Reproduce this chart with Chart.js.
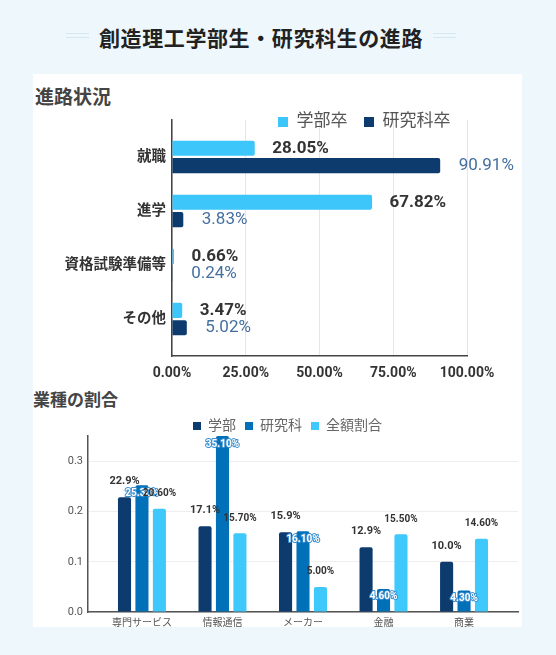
<!DOCTYPE html>
<html lang="ja">
<head>
<meta charset="UTF-8">
<title>創造理工学部生・研究科生の進路</title>
<script src="https://cdn.jsdelivr.net/npm/chart.js"></script>
<style>
  body { margin: 0; width: 556px; height: 655px; background: #eef7fb; overflow: hidden; position: relative;
         font-family: Roboto, 'Noto Sans CJK JP', sans-serif; }
  .deco { position: absolute; top: 33px; width: 23px; height: 3px; border-top: 1px solid #d4e7ed; border-bottom: 1px solid #d4e7ed; }
  .title { position: absolute; left: 0; width: 522px; top: 24px; text-align: center; font-size: 21px; font-weight: bold;
           font-family: 'Noto Sans CJK JP', sans-serif; color: #222; line-height: 26px; letter-spacing: 0.6px; white-space: nowrap; }
  .panel { position: absolute; left: 33px; top: 74px; width: 489px; height: 553px; background: #fff; }
  .sub { position: absolute; font-weight: bold; color: #444; }
  canvas { position: absolute; left: 33px; }
</style>
</head>
<body>
  <div class="deco" style="left:66px"></div>
  <div class="title">創造理工学部生・研究科生の進路</div>
  <div class="deco" style="left:433px"></div>
  <div class="panel"></div>
  <div class="sub" style="left:35px; top:87px; font-size:19px; line-height:22px;">進路状況</div>
  <canvas id="courseChart" width="489" height="289" style="top:97px"></canvas>
  <div class="sub" style="left:33px; top:390px; font-size:17px; line-height:20px;">業種の割合</div>
  <canvas id="industryChart" width="489" height="217" style="top:410px"></canvas>

<script>
const FONT = "Roboto, 'Noto Sans CJK JP', sans-serif";
Chart.defaults.font.family = FONT;

// 進路状況 (%)
const courseLabels = ['就職', '進学', '資格試験準備等', 'その他'];
const undergrad = [28.05, 67.82, 0.66, 3.47];
const graduate = [90.91, 3.83, 0.24, 5.02];
const percentTicks = [0, 25, 50, 75, 100];

// 業種の割合 (ratio)
const industryLabels = ['専門サービス', '情報通信', 'メーカー', '金融', '商業'];
const gakubu = [0.229, 0.171, 0.159, 0.129, 0.100];
const kenkyuka = [0.253, 0.351, 0.161, 0.046, 0.043];
const zengaku = [0.206, 0.157, 0.050, 0.155, 0.146];
const ratioTicks = [0, 0.1, 0.2, 0.3];

// leave some empty room before the first and after the last category
function widenBands(extra) {
  return scale => {
    scale._startValue -= extra;
    scale._valueRange += 2 * extra;
  };
}

// legend text hangs a little into the plot area, don't clip it
const legendOverlap = {
  id: 'legendOverlap',
  afterLayout(chart) {
    chart.legend.bottom += 14;
    chart.legend.height += 14;
  }
};

const courseLabelPlugin = {
  id: 'courseLabels',
  afterDatasetsDraw(chart) {
    const ctx = chart.ctx;
    ctx.save();
    ctx.textAlign = 'left';
    ctx.textBaseline = 'middle';
    chart.getDatasetMeta(0).data.forEach((bar, i) => {
      ctx.font = 'bold 17px ' + FONT;
      ctx.fillStyle = '#333';
      ctx.fillText(undergrad[i].toFixed(2) + '%', bar.x + 17.5, bar.y);
    });
    chart.getDatasetMeta(1).data.forEach((bar, i) => {
      ctx.font = '17px ' + FONT;
      ctx.fillStyle = '#44709f';
      ctx.fillText(graduate[i].toFixed(2) + '%', bar.x + 18.5, bar.y);
    });
    ctx.restore();
  }
};

new Chart(document.getElementById('courseChart'), {
  type: 'bar',
  data: {
    labels: courseLabels,
    datasets: [
      { label: '学部卒', data: undergrad, backgroundColor: '#3cc6f9', borderWidth: 0, borderRadius: 2 },
      { label: '研究科卒', data: graduate, backgroundColor: '#0d3b6e', borderWidth: 0, borderRadius: 2 }
    ]
  },
  options: {
    indexAxis: 'y',
    responsive: false,
    animation: false,
    categoryPercentage: 0.64,
    barPercentage: 0.87,
    layout: { padding: { left: 0, right: 55, top: 0, bottom: 0 } },
    scales: {
      x: {
        min: 0, max: 100,
        afterBuildTicks: s => { s.ticks = percentTicks.map(v => ({ value: v })); },
        afterFit: s => { s.height = 30; },
        ticks: { callback: v => v.toFixed(2) + '%', color: '#333', font: { size: 14, weight: 'bold' }, padding: 9 },
        grid: { color: '#e6e6e6', drawTicks: false },
        border: { color: '#444', width: 1.5 }
      },
      y: {
        afterBuildTicks: widenBands(0.185),
        afterFit: s => { s.width = 139; },
        ticks: { color: '#333', font: { size: 14.5, weight: 'bold' }, padding: 6 },
        grid: { display: false, drawTicks: false },
        border: { color: '#444', width: 1.5 }
      }
    },
    plugins: {
      legend: {
        position: 'top', align: 'end', maxHeight: 23,
        labels: { boxWidth: 10, boxHeight: 10, padding: 16.5, color: '#555', font: { size: 17 } }
      },
      tooltip: { enabled: false }
    }
  },
  plugins: [legendOverlap, courseLabelPlugin]
});

const industryLabelPlugin = {
  id: 'industryLabels',
  afterDatasetsDraw(chart) {
    const ctx = chart.ctx;
    ctx.save();
    ctx.textAlign = 'center';
    ctx.textBaseline = 'middle';
    chart.getDatasetMeta(0).data.forEach((bar, i) => {
      ctx.font = 'bold 11px ' + FONT;
      ctx.fillStyle = '#333';
      ctx.fillText((gakubu[i] * 100).toFixed(1) + '%', bar.x, bar.y - 16);
    });
    chart.getDatasetMeta(1).data.forEach((bar, i) => {
      const t = (kenkyuka[i] * 100).toFixed(2) + '%';
      ctx.font = 'bold 10px ' + FONT;
      ctx.lineWidth = 2;
      ctx.lineJoin = 'round';
      ctx.strokeStyle = '#3a8fd0';
      ctx.strokeText(t, bar.x, bar.y + 8);
      ctx.fillStyle = '#fff';
      ctx.fillText(t, bar.x, bar.y + 8);
    });
    chart.getDatasetMeta(2).data.forEach((bar, i) => {
      ctx.font = 'bold 10px ' + FONT;
      ctx.fillStyle = '#333';
      ctx.fillText((zengaku[i] * 100).toFixed(2) + '%', bar.x, bar.y - 15);
    });
    ctx.restore();
  }
};

new Chart(document.getElementById('industryChart'), {
  type: 'bar',
  data: {
    labels: industryLabels,
    datasets: [
      { label: '学部', data: gakubu, backgroundColor: '#0d3b6e', borderWidth: 0, borderRadius: 2 },
      { label: '研究科', data: kenkyuka, backgroundColor: '#0070b8', borderWidth: 0, borderRadius: 2 },
      { label: '全額割合', data: zengaku, backgroundColor: '#3ec8fb', borderWidth: 0, borderRadius: 2 }
    ]
  },
  options: {
    responsive: false,
    animation: false,
    categoryPercentage: 0.65,
    barPercentage: 0.75,
    layout: { padding: { left: 24, right: 4, top: 0, bottom: 0 } },
    scales: {
      x: {
        afterBuildTicks: widenBands(0.17),
        afterFit: s => { s.height = 15; },
        ticks: { color: '#555', font: { size: 10 }, padding: 5, maxRotation: 0 },
        grid: { display: false, drawTicks: false },
        border: { color: '#555', width: 1.5 }
      },
      y: {
        min: 0, max: 0.351,
        afterBuildTicks: s => { s.ticks = ratioTicks.map(v => ({ value: v })); },
        afterFit: s => { s.width = 31; },
        ticks: { callback: v => v.toFixed(1), color: '#555', font: { size: 11 }, padding: 5 },
        grid: { color: '#eeeeee', drawTicks: false },
        border: { color: '#555', width: 1.5 }
      }
    },
    plugins: {
      legend: {
        position: 'top', align: 'center', maxHeight: 26,
        labels: { boxWidth: 8, boxHeight: 8, padding: 9, color: '#666', font: { size: 14 } }
      },
      tooltip: { enabled: false }
    }
  },
  plugins: [industryLabelPlugin]
});
</script>
</body>
</html>
